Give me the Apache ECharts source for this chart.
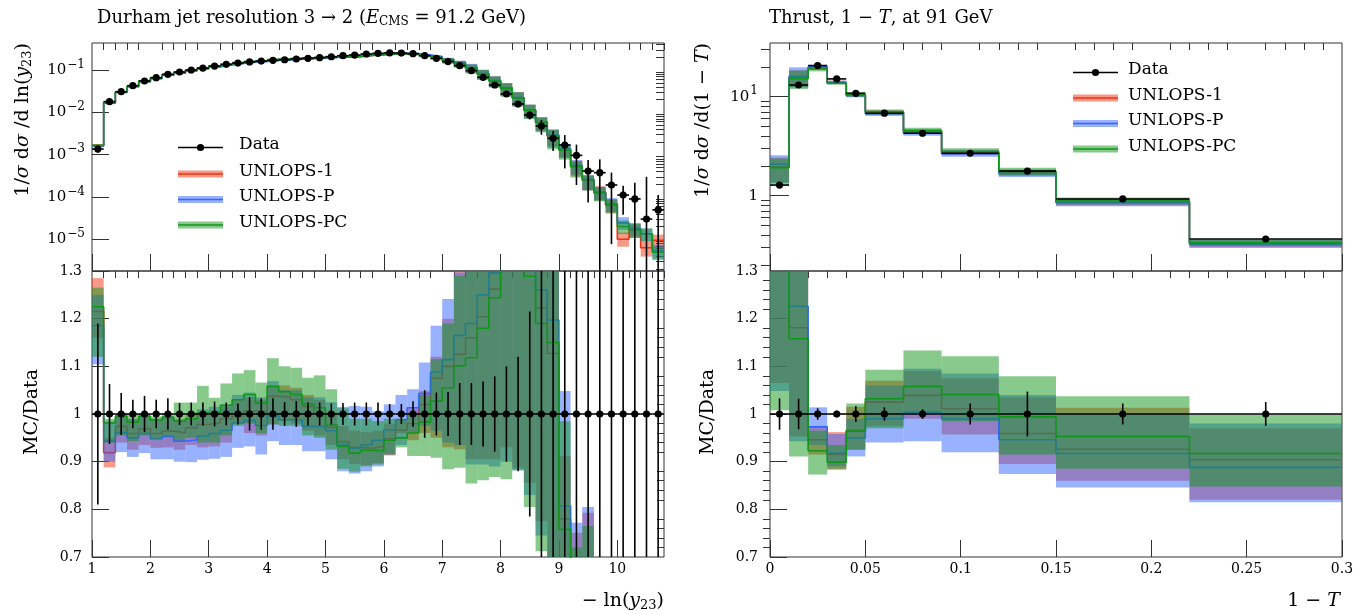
<!DOCTYPE html>
<html>
<head>
<meta charset="utf-8">
<script src="https://cdn.jsdelivr.net/npm/echarts@6/dist/echarts.min.js"></script>
<style>
  html, body { margin: 0; padding: 0; background: #fff; }
  #chart { width: 1359px; height: 614px; }
</style>
</head>
<body>
<div id="chart"></div>
<script>
  // ---- Durham y23, bins in -ln(y23) ----
  const jetEdges = [1.0, 1.2, 1.4, 1.6, 1.8, 2.0, 2.2, 2.4, 2.6, 2.8, 3.0, 3.2, 3.4, 3.6, 3.8, 4.0, 4.2, 4.4, 4.6, 4.8,
    5.0, 5.2, 5.4, 5.6, 5.8, 6.0, 6.2, 6.4, 6.6, 6.8, 7.0, 7.2, 7.4, 7.6, 7.8, 8.0, 8.2, 8.4, 8.6, 8.8,
    9.0, 9.2, 9.4, 9.6, 9.8, 10.0, 10.2, 10.4, 10.6, 10.8]
  const jetData = [1.36e-3, 0.0179, 0.0307, 0.0427, 0.055, 0.066, 0.079, 0.0897, 0.100, 0.111,
    0.124, 0.136, 0.146, 0.155, 0.163, 0.169, 0.175, 0.182, 0.189, 0.196,
    0.206, 0.218, 0.226, 0.239, 0.248, 0.254, 0.252, 0.243, 0.218, 0.189,
    0.158, 0.127, 0.0965, 0.0672, 0.0442, 0.0271, 0.0157, 0.00865, 0.00475, 0.00243,
    0.00169, 9.6e-4, 4.1e-4, 3.75e-4, 1.92e-4, 1.11e-4, 8.97e-5, 3.0e-5, 4.95e-5]
  // relative data uncertainty
  const jetDataErr = [0.19, 0.063, 0.044, 0.03, 0.038, 0.03, 0.033, 0.023, 0.024, 0.024,
    0.026, 0.024, 0.022, 0.035, 0.033, 0.033, 0.025, 0.027, 0.024, 0.024,
    0.022, 0.023, 0.024, 0.024, 0.024, 0.021, 0.021, 0.027, 0.05, 0.045,
    0.046, 0.065, 0.065, 0.068, 0.079, 0.1, 0.12, 0.215, 0.38, 0.5,
    0.72, 0.8, 0.82, 1.06, 0.96, 0.66, 1.43, 9.0, 1.25]
  // MC / Data
  const jetRed = [1.215, 0.919, 0.974, 0.959, 0.969, 0.959, 0.964, 0.960, 0.971, 0.978,
    0.981, 0.990, 0.995, 1.006, 1.004, 1.037, 1.036, 1.030, 1.016, 1.002,
    0.972, 0.942, 0.930, 0.928, 0.932, 0.948, 0.966, 0.980, 1.020, 1.075,
    1.100, 1.125, 1.160, 1.204, 1.262, 1.34, 1.38, 1.31, 1.223, 1.127,
    0.78, 0.56, 0.60, 0.35, 0.33, 0.09, 0.185, 0.21, 0.19]
  const jetRedLo = [1.16, 0.888, 0.94, 0.925, 0.935, 0.929, 0.93, 0.925, 0.935, 0.93,
    0.932, 0.94, 0.982, 0.96, 0.955, 0.978, 0.985, 0.98, 0.965, 0.955,
    0.935, 0.905, 0.895, 0.893, 0.897, 0.913, 0.96, 0.945, 0.96, 0.95,
    0.93, 0.926, 0.905, 0.905, 0.905, 0.93, 0.887, 0.856, 0.775, 0.65,
    0.5, 0.32, 0.35, 0.22, 0.21, 0.06, 0.12, 0.13, 0.12]
  const jetRedHi = [1.285, 0.95, 1.0, 0.99, 1.0, 0.99, 0.995, 0.99, 1.0, 1.005,
    1.007, 1.015, 1.03, 1.035, 1.03, 1.059, 1.06, 1.055, 1.04, 1.03,
    1.005, 0.975, 0.965, 0.962, 0.965, 0.98, 0.99, 1.012, 1.048, 1.12,
    1.2, 1.3, 1.4, 1.5, 1.6, 1.8, 1.9, 1.75, 1.6, 1.6,
    0.912, 0.751, 0.793, 0.48, 0.45, 0.13, 0.25, 0.29, 0.26]
  const jetBlue = [1.185, 0.943, 0.961, 0.950, 0.959, 0.948, 0.953, 0.943, 0.946, 0.954,
    0.959, 0.966, 0.981, 0.986, 0.976, 0.996, 0.988, 0.987, 0.974, 0.974,
    0.965, 0.935, 0.928, 0.935, 0.945, 0.967, 0.988, 1.013, 1.043, 1.088,
    1.114, 1.165, 1.190, 1.250, 1.296, 1.40, 1.42, 1.32, 1.260, 1.197,
    0.807, 0.58, 0.64, 0.34, 0.36, 0.22, 0.20, 0.45, 0.11]
  const jetBlueLo = [1.104, 0.9, 0.92, 0.91, 0.918, 0.905, 0.905, 0.9, 0.899, 0.904,
    0.906, 0.91, 0.929, 0.932, 0.915, 0.943, 0.935, 0.935, 0.922, 0.922,
    0.905, 0.88, 0.875, 0.88, 0.89, 0.915, 0.935, 0.96, 0.975, 0.965,
    0.94, 0.935, 0.894, 0.894, 0.89, 0.9, 0.882, 0.83, 0.745, 0.6,
    0.5, 0.35, 0.35, 0.22, 0.23, 0.15, 0.13, 0.3, 0.07]
  const jetBlueHi = [1.25, 0.985, 1.0, 0.99, 1.0, 0.99, 0.995, 0.985, 0.99, 1.01,
    1.015, 1.02, 1.04, 1.045, 1.035, 1.069, 1.05, 1.05, 1.035, 1.035,
    1.025, 1.015, 1.017, 1.015, 1.006, 1.02, 1.04, 1.052, 1.108, 1.185,
    1.241, 1.297, 1.45, 1.5, 1.6, 1.8, 1.9, 1.75, 1.6, 1.6,
    1.048, 0.772, 0.805, 0.46, 0.49, 0.3, 0.27, 0.6, 0.15]
  const jetGreen = [1.225, 0.981, 0.995, 0.983, 0.995, 0.987, 0.993, 0.985, 0.990, 1.002,
    1.002, 1.018, 1.030, 1.041, 1.023, 1.058, 1.047, 1.041, 1.021, 1.013,
    0.977, 0.932, 0.918, 0.924, 0.923, 0.945, 0.950, 0.960, 0.983, 1.027,
    1.055, 1.101, 1.118, 1.180, 1.244, 1.36, 1.40, 1.289, 1.190, 1.150,
    0.758, 0.54, 0.62, 0.33, 0.34, 0.18, 0.19, 0.45, 0.10]
  const jetGreenLo = [1.12, 0.94, 0.955, 0.943, 0.955, 0.947, 0.953, 0.945, 0.95, 0.94,
    0.94, 0.955, 0.975, 0.98, 0.96, 0.978, 0.975, 0.975, 0.955, 0.95,
    0.925, 0.885, 0.879, 0.89, 0.894, 0.915, 0.93, 0.912, 0.912, 0.908,
    0.884, 0.887, 0.854, 0.861, 0.868, 0.863, 0.882, 0.805, 0.712, 0.55,
    0.45, 0.3, 0.35, 0.21, 0.22, 0.12, 0.12, 0.29, 0.065]
  const jetGreenHi = [1.265, 0.99, 1.0, 1.0, 1.0, 0.995, 1.0, 1.024, 1.024, 1.059,
    1.034, 1.064, 1.085, 1.092, 1.066, 1.117, 1.1, 1.097, 1.076, 1.081,
    1.052, 1.012, 0.99, 0.99, 0.985, 0.99, 0.99, 1.0, 1.04, 1.115,
    1.19, 1.29, 1.4, 1.5, 1.6, 1.8, 1.9, 1.75, 1.6, 1.6,
    0.985, 0.72, 0.765, 0.45, 0.46, 0.25, 0.26, 0.6, 0.135]

  // ---- Thrust, bins in 1-T ----
  const thrEdges = [0, 0.01, 0.02, 0.03, 0.04, 0.05, 0.07, 0.09, 0.12, 0.15, 0.22, 0.30]
  const thrData = [1.28, 13.1, 20.6, 15.1, 10.8, 6.8, 4.27, 2.68, 1.77, 0.926, 0.365]
  const thrDataErr = [0.033, 0.032, 0.012, 0.007, 0.017, 0.014, 0.01, 0.022, 0.047, 0.022, 0.025]
  const thrRed = [1.52, 1.181, 0.946, 0.915, 0.966, 1.025, 1.039, 1.011, 0.959, 0.926, 0.904]
  const thrRedLo = [1.065, 0.953, 0.915, 0.885, 0.925, 0.975, 0.99, 0.957, 0.895, 0.86, 0.82]
  const thrRedHi = [1.9, 1.41, 0.975, 0.962, 1.015, 1.07, 1.09, 1.075, 1.035, 1.013, 0.97]
  const thrBlue = [1.62, 1.226, 0.973, 0.918, 0.95, 0.99, 1.004, 0.99, 0.946, 0.917, 0.888]
  const thrBlueLo = [1.048, 0.943, 0.935, 0.89, 0.911, 0.94, 0.943, 0.92, 0.874, 0.846, 0.815]
  const thrBlueHi = [2.0, 1.51, 1.014, 0.958, 0.99, 1.06, 1.095, 1.085, 1.04, 1.0, 0.98]
  const thrGreen = [1.50, 1.158, 0.923, 0.899, 0.964, 1.032, 1.058, 1.041, 0.994, 0.953, 0.917]
  const thrGreenLo = [1.008, 0.911, 0.873, 0.883, 0.925, 0.97, 1.0, 0.985, 0.915, 0.885, 0.848]
  const thrGreenHi = [1.85, 1.40, 0.965, 0.935, 1.022, 1.093, 1.133, 1.121, 1.079, 1.037, 0.999]

  // ticks
  const jetTicks = [1, 2, 3, 4, 5, 6, 7, 8, 9, 10]
  const thrTicks = [0, 0.05, 0.1, 0.15, 0.2, 0.25, 0.3]
  const ratioTicks = [0.7, 0.8, 0.9, 1, 1.1, 1.2, 1.3]
  const jetLogTicks = [1e-5, 1e-4, 1e-3, 1e-2, 1e-1]
  const thrLogTicks = [1, 10]

  const FONT = 'DejaVu Serif'
  const RED = '#ee3311', BLUE = '#3366ff', GREEN = '#109618'
  const RED_BAND = 'rgba(238,51,17,0.5)', BLUE_BAND = 'rgba(51,102,255,0.5)', GREEN_BAND = 'rgba(16,150,24,0.5)'
  const INK = '#333'

  const minorSteps = (a, b, step, major) => {
    const out = []
    for (let v = a; v <= b + 1e-9; v += step) {
      const r = Math.round(v * 1000) / 1000
      if (Math.abs(r / major - Math.round(r / major)) > 1e-6) out.push(r)
    }
    return out
  }
  const logMinor = (lo, hi) => {
    const out = []
    for (let e = -7; e <= 2; e++) {
      for (let m = 2; m <= 9; m++) {
        const v = m * Math.pow(10, e)
        if (v > lo && v < hi) out.push(v)
      }
    }
    return out
  }

  const JET_YMIN = 1.78e-6, JET_YMAX = 0.435
  const THR_YMIN = 0.1735, THR_YMAX = 34.8

  const tickStyle = { color: INK, width: 1 }
  const labelBase = { color: '#000', fontFamily: FONT, fontSize: 14 }

  function xAx(grid, min, max, ticks, len, label) {
    return {
      type: 'value', gridIndex: grid, min, max,
      axisLine: { show: false }, splitLine: { show: false },
      axisTick: { show: true, inside: true, length: len, customValues: ticks, lineStyle: tickStyle },
      axisLabel: label ? Object.assign({ show: true, customValues: ticks, margin: 5 }, labelBase, label) : { show: false }
    }
  }
  function yAx(grid, type, min, max, ticks, len, label) {
    return {
      type, gridIndex: grid, min, max, logBase: 10,
      axisLine: { show: false }, splitLine: { show: false },
      axisTick: { show: true, inside: true, length: len, customValues: ticks, lineStyle: tickStyle },
      axisLabel: label ? Object.assign({ show: true, customValues: ticks }, labelBase, label) : { show: false }
    }
  }

  const powRich = {
    m: { fontFamily: FONT, fontSize: 15, color: '#000' },
    e: { fontFamily: FONT, fontSize: 12, color: '#000', padding: [0, 0, 11, 1] }
  }
  const powLabel = v => {
    const e = Math.round(Math.log10(v))
    if (e === 0) return '{m|1}'
    return '{m|10}{e|' + (e < 0 ? '\u2212' + (-e) : e) + '}'
  }
  const ratioLabel = { margin: 10, formatter: v => (v === 1 ? '1' : v.toFixed(1)) }

  const xAxes = [
    xAx(0, 1, 10.8, jetTicks, 17),
    xAx(0, 1, 10.8, minorSteps(1, 10.8, 0.2, 1), 7),
    xAx(1, 1, 10.8, jetTicks, 17, { formatter: v => String(v) }),
    xAx(1, 1, 10.8, minorSteps(1, 10.8, 0.2, 1), 7),
    xAx(2, 0, 0.3, thrTicks, 17),
    xAx(2, 0, 0.3, minorSteps(0, 0.3, 0.01, 0.05), 7),
    xAx(3, 0, 0.3, thrTicks, 17, { formatter: v => String(v) }),
    xAx(3, 0, 0.3, minorSteps(0, 0.3, 0.01, 0.05), 7)
  ]
  const yAxes = [
    yAx(0, 'log', JET_YMIN, JET_YMAX, jetLogTicks, 17, { margin: 7, formatter: powLabel, rich: powRich }),
    yAx(0, 'log', JET_YMIN, JET_YMAX, logMinor(JET_YMIN, JET_YMAX), 8),
    yAx(1, 'value', 0.7, 1.3, ratioTicks, 17, ratioLabel),
    yAx(1, 'value', 0.7, 1.3, minorSteps(0.7, 1.3, 0.02, 0.1), 7),
    yAx(2, 'log', THR_YMIN, THR_YMAX, thrLogTicks, 19, { margin: 12, formatter: powLabel, rich: powRich }),
    yAx(2, 'log', THR_YMIN, THR_YMAX, logMinor(THR_YMIN, THR_YMAX), 9),
    yAx(3, 'value', 0.7, 1.3, ratioTicks, 17, Object.assign({}, ratioLabel, { margin: 12 })),
    yAx(3, 'value', 0.7, 1.3, minorSteps(0.7, 1.3, 0.02, 0.1), 7)
  ]

  function bandSeries(edges, lo, hi, scale, fill, xi, yi, z) {
    return {
      type: 'custom', xAxisIndex: xi, yAxisIndex: yi, z, clip: true, silent: true,
      data: lo.map((l, i) => [edges[i], edges[i + 1], l * scale[i], hi[i] * scale[i]]),
      encode: { x: [0, 1], y: [2, 3] },
      renderItem(params, api) {
        const a = api.coord([api.value(0), api.value(3)])
        const b = api.coord([api.value(1), api.value(2)])
        return { type: 'rect', shape: { x: a[0], y: a[1], width: b[0] - a[0], height: b[1] - a[1] }, style: { fill } }
      }
    }
  }
  function stepSeries(edges, ratio, scale, color, xi, yi, z) {
    const pts = ratio.map((r, i) => [edges[i], r * scale[i]])
    pts.push([edges[edges.length - 1], ratio[ratio.length - 1] * scale[scale.length - 1]])
    return {
      type: 'line', xAxisIndex: xi, yAxisIndex: yi, z, step: 'end', symbol: 'none', clip: true, silent: true,
      data: pts, lineStyle: { color, width: 1.6 }
    }
  }
  function dataSeries(edges, vals, errs, xi, yi) {
    return {
      type: 'custom', xAxisIndex: xi, yAxisIndex: yi, z: 20, clip: true, silent: true,
      data: vals.map((v, i) => [edges[i], edges[i + 1], v, errs[i]]),
      encode: { x: [0, 1], y: 2 },
      renderItem(params, api) {
        const x0 = api.value(0), x1 = api.value(1), v = api.value(2), e = api.value(3)
        const xc = (x0 + x1) / 2
        const c = api.coord([xc, v])
        const l = api.coord([x0, v]), r = api.coord([x1, v])
        const top = api.coord([xc, v * (1 + e)])
        const bot = api.coord([xc, Math.max(v * (1 - e), 1e-9)])
        const st = { stroke: '#000', lineWidth: 1.6 }
        return {
          type: 'group', children: [
            { type: 'line', shape: { x1: l[0], y1: c[1], x2: r[0], y2: c[1] }, style: st },
            { type: 'line', shape: { x1: c[0], y1: top[1], x2: c[0], y2: bot[1] }, style: st },
            { type: 'circle', shape: { cx: c[0], cy: c[1], r: 3.6 }, style: { fill: '#000' } }
          ]
        }
      }
    }
  }
  function mcSeries(edges, scale, sets, xi, yi) {
    const out = []
    sets.forEach((s, k) => {
      out.push(bandSeries(edges, s.lo, s.hi, scale, s.band, xi, yi, 2 + 2 * k))
      out.push(stepSeries(edges, s.line, scale, s.color, xi, yi, 3 + 2 * k))
    })
    return out
  }

  const jetSets = [
    { line: jetRed, lo: jetRedLo, hi: jetRedHi, color: RED, band: RED_BAND },
    { line: jetBlue, lo: jetBlueLo, hi: jetBlueHi, color: BLUE, band: BLUE_BAND },
    { line: jetGreen, lo: jetGreenLo, hi: jetGreenHi, color: GREEN, band: GREEN_BAND }
  ]
  const thrSets = [
    { line: thrRed, lo: thrRedLo, hi: thrRedHi, color: RED, band: RED_BAND },
    { line: thrBlue, lo: thrBlueLo, hi: thrBlueHi, color: BLUE, band: BLUE_BAND },
    { line: thrGreen, lo: thrGreenLo, hi: thrGreenHi, color: GREEN, band: GREEN_BAND }
  ]
  const jetOnes = jetData.map(() => 1)
  const thrOnes = thrData.map(() => 1)

  const series = [].concat(
    mcSeries(jetEdges, jetData, jetSets, 0, 0),
    [dataSeries(jetEdges, jetData, jetDataErr, 0, 0)],
    mcSeries(jetEdges, jetOnes, jetSets, 2, 2),
    [dataSeries(jetEdges, jetOnes, jetDataErr, 2, 2)],
    mcSeries(thrEdges, thrData, thrSets, 4, 4),
    [dataSeries(thrEdges, thrData, thrDataErr, 4, 4)],
    mcSeries(thrEdges, thrOnes, thrSets, 6, 6),
    [dataSeries(thrEdges, thrOnes, thrDataErr, 6, 6)]
  )

  // ---- texts and legends ----
  const rich = size => ({
    r: { fontFamily: FONT, fontSize: size, fill: '#000' },
    i: { fontFamily: FONT, fontSize: size, fontStyle: 'italic', fill: '#000' },
    s: { fontFamily: FONT, fontSize: Math.round(size * 0.68), fill: '#000', padding: [Math.round(size * 0.45), 0, 0, 0] }
  })
  const txt = (x, y, text, size, align) => ({
    type: 'text', x, y, silent: true,
    style: { text, rich: rich(size), fontFamily: FONT, fontSize: size, fill: '#000', align: align || 'left', verticalAlign: 'middle' }
  })
  const rotTxt = (x, y, text, size, align) => ({
    type: 'text', x, y, rotation: Math.PI / 2, silent: true,
    style: { text, rich: rich(size), fontFamily: FONT, fontSize: size, fill: '#000', align, verticalAlign: 'middle' }
  })

  function legend(x0, x1, tx, rows) {
    const els = []
    const names = ['Data', 'UNLOPS-1', 'UNLOPS-P', 'UNLOPS-PC']
    const cols = [null, [RED, RED_BAND], [BLUE, BLUE_BAND], [GREEN, GREEN_BAND]]
    rows.forEach((y, k) => {
      if (k === 0) {
        els.push({ type: 'line', silent: true, shape: { x1: x0, y1: y, x2: x1, y2: y }, style: { stroke: '#000', lineWidth: 1.4 } })
        els.push({ type: 'circle', silent: true, shape: { cx: (x0 + x1) / 2, cy: y, r: 3.6 }, style: { fill: '#000' } })
      } else {
        els.push({ type: 'rect', silent: true, shape: { x: x0, y: y - 3.5, width: x1 - x0, height: 7 }, style: { fill: cols[k][1] } })
        els.push({ type: 'line', silent: true, shape: { x1: x0, y1: y, x2: x1, y2: y }, style: { stroke: cols[k][0], lineWidth: 1.6 } })
      }
      els.push(txt(tx, y - 2.5, '{r|' + names[k] + '}', 17))
    })
    return els
  }

  const graphic = [].concat(
    [
      txt(97, 18, '{r|Durham jet resolution 3 \u2192 2 (}{i|E}{s|CMS}{r| = 91.2 GeV)}', 18),
      txt(769, 18, '{r|Thrust, 1 \u2212 }{i|T}{r|, at 91 GeV}', 18),
      rotTxt(23, 43, '{r|1/}{i|\u03c3}{r| d}{i|\u03c3}{r| /d ln(}{i|y}{s|23}{r|)}', 19, 'right'),
      rotTxt(32, 412, '{r|MC/Data}', 19, 'center'),
      rotTxt(703, 43, '{r|1/}{i|\u03c3}{r| d}{i|\u03c3}{r| /d(1 \u2212 }{i|T}{r|)}', 19, 'right'),
      rotTxt(708, 412, '{r|MC/Data}', 19, 'center'),
      txt(664, 601, '{r|\u2212 ln(}{i|y}{s|23}{r|)}', 19, 'right'),
      txt(1340, 601, '{r|1 \u2212 }{i|T}', 19, 'right')
    ],
    legend(178, 223, 239, [147.5, 174, 199.5, 225]),
    legend(1073, 1118, 1128, [72.5, 98, 123.5, 149])
  )

  const gridBase = { show: true, borderColor: INK, borderWidth: 1, backgroundColor: 'transparent', containLabel: false, outerBoundsMode: 'none' }
  const chart = echarts.init(document.getElementById('chart'))
  chart.setOption({
    animation: false,
    backgroundColor: '#fff',
    grid: [
      Object.assign({ left: 92, top: 43, width: 572, height: 228 }, gridBase),
      Object.assign({ left: 92, top: 271, width: 572, height: 286 }, gridBase),
      Object.assign({ left: 770, top: 43, width: 572, height: 228 }, gridBase),
      Object.assign({ left: 770, top: 271, width: 572, height: 286 }, gridBase)
    ],
    xAxis: xAxes,
    yAxis: yAxes,
    series,
    graphic
  })
</script>
</body>
</html>
